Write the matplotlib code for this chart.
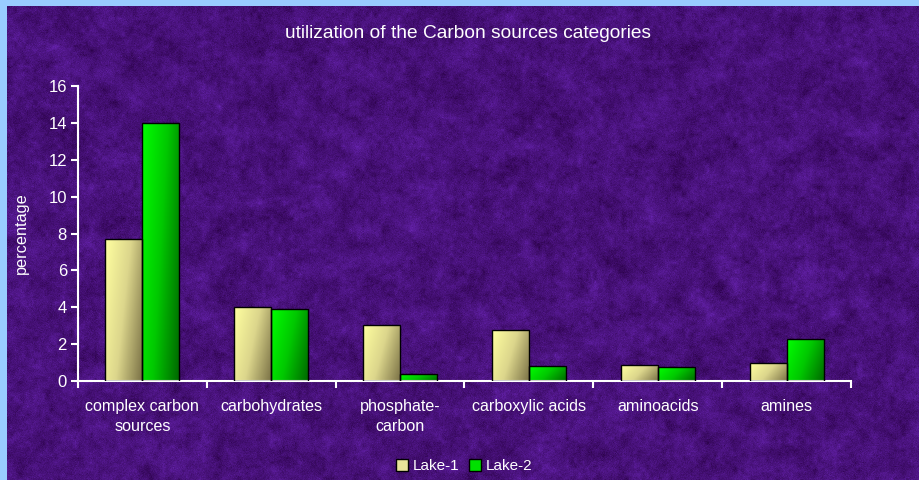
import numpy as np
import matplotlib as mpl
mpl.use('Agg')
import matplotlib.pyplot as plt
from matplotlib.colors import LinearSegmentedColormap
from matplotlib.patches import Patch

plt.rcParams['font.family'] = ['Liberation Sans', 'DejaVu Sans']

categories = ['complex carbon\nsources', 'carbohydrates', 'phosphate-\ncarbon',
              'carboxylic acids', 'aminoacids', 'amines']
lake1 = [7.7, 4.0, 3.05, 2.75, 0.85, 0.95]
lake2 = [14.0, 3.9, 0.4, 0.8, 0.75, 2.3]


def smooth_noise(rng, h, w, step):
    # coarse random grid, bilinearly stretched to h x w
    g = rng.normal(0, 1, (h // step + 2, w // step + 2))
    yy = np.arange(h) / step
    xx = np.arange(w) / step
    rows = np.array([np.interp(xx, np.arange(g.shape[1]), r) for r in g])
    return np.array([np.interp(yy, np.arange(rows.shape[0]), c) for c in rows.T]).T


fig = plt.figure(figsize=(9.19, 4.80), dpi=100)
fig.patch.set_facecolor('#99ccff')

# purple textured panel
bg = fig.add_axes([7 / 919, 0, 912 / 919, 474 / 480])
bg.set_axis_off()
rng = np.random.default_rng(7)
h, w = 474, 912
mix = (0.45 * smooth_noise(rng, h, w, 14) + 0.35 * smooth_noise(rng, h, w, 4)
       + 0.3 * rng.normal(0, 1, (h, w)))
base = np.array([72, 18, 122]) / 255.0
var = np.array([14, 8, 24]) / 255.0
tex = np.clip(base[None, None, :] + mix[:, :, None] * var[None, None, :], 0, 1)
bg.imshow(tex, aspect='auto', interpolation='bilinear')

ax = fig.add_axes([78 / 919, 99 / 480, 773 / 919, 295 / 480])
ax.patch.set_alpha(0)

x = np.arange(len(categories))
bw = 0.287
b1 = ax.bar(x - bw / 2, lake1, bw, facecolor='none', edgecolor='black', linewidth=1.0, zorder=3)
b2 = ax.bar(x + bw / 2, lake2, bw, facecolor='none', edgecolor='black', linewidth=1.0, zorder=3)

cm1 = LinearSegmentedColormap.from_list('l1', ['#ffffa0', '#dcd68c', '#7d7448'])
cm2 = LinearSegmentedColormap.from_list('l2', ['#00ff00', '#00c800', '#006a00'])
gx, gy = np.meshgrid(np.linspace(0, 1, 40), np.linspace(0, 1, 80))
grad = 0.7 * gx + 0.3 * gy
for bars, cm in ((b1, cm1), (b2, cm2)):
    for bar in bars:
        x0, y0 = bar.get_x(), bar.get_y()
        im = ax.imshow(grad, cmap=cm, origin='upper', aspect='auto', zorder=2,
                       extent=[x0, x0 + bar.get_width(), y0, y0 + bar.get_height()])
        im.set_clip_path(bar)

ax.set_xlim(-0.5, len(categories) - 0.5)
ax.set_ylim(0, 16)
ax.set_yticks(range(0, 17, 2))
ax.set_xticks(x)
ax.set_xticklabels(categories, color='white', fontsize=11.6, linespacing=1.45)
ax.set_xticks(np.arange(-0.5, len(categories), 1), minor=True)
ax.tick_params(axis='x', which='major', length=0, pad=13)
ax.tick_params(axis='x', which='minor', length=5, width=1.5, color='white', direction='out')
ax.tick_params(axis='y', length=5, width=1.5, color='white', labelcolor='white', labelsize=12, pad=3)
for s in ('top', 'right'):
    ax.spines[s].set_visible(False)
for s in ('left', 'bottom'):
    ax.spines[s].set_color('white')
    ax.spines[s].set_linewidth(1.5)
ax.set_ylabel('percentage', color='white', fontsize=11.7, labelpad=14)

fig.text(468 / 919, 1 - 33 / 480, 'utilization of the Carbon sources categories',
         color='white', fontsize=13.8, ha='center', va='center')

handles = [Patch(facecolor='#e8e49a', edgecolor='black', label='Lake-1'),
           Patch(facecolor='#00e000', edgecolor='black', label='Lake-2')]
fig.legend(handles=handles, loc='center', bbox_to_anchor=(464 / 919, 1 - 466 / 480), ncol=2,
           frameon=False, fontsize=11, labelcolor='white', handlelength=0.8, handleheight=0.8,
           handletextpad=0.3, columnspacing=0.6)

fig.savefig('out.png', dpi=100)
